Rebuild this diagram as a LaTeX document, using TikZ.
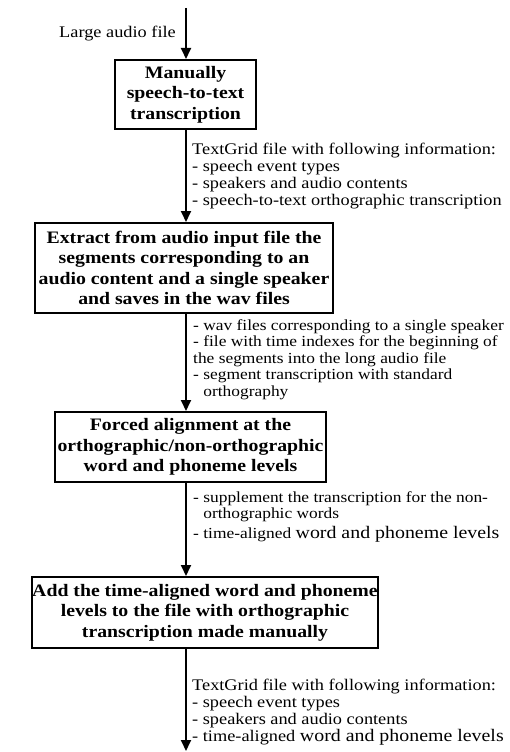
\documentclass[tikz,border=0pt]{standalone}
\usepackage{fontspec}
\setmainfont{Liberation Serif}[FakeStretch=1.13]
\usetikzlibrary{arrows.meta}

\newcommand\wordlevels{{\fontsize{17.6}{17}\selectfont word and phoneme levels}}

\begin{document}
\begin{tikzpicture}[x=1pt,y=-1pt,
  stage/.style={draw, line width=2pt, align=center, inner sep=0pt,
    font=\fontsize{17.5}{20.5}\selectfont\bfseries},
  note/.style={anchor=north west, align=left, inner sep=0pt,
    font=\fontsize{16.2}{17}\selectfont},
  smallnote/.style={note, font=\fontsize{15.4}{16.6}\selectfont},
  flow/.style={line width=1.8pt, -{Triangle[width=10pt,length=11pt]}}
]
\useasboundingbox (0,0) rectangle (510,752);

% processing stages
\node[stage, minimum width=141pt, minimum height=69pt] (s1) at (185.5,94.5)
  {Manually\\speech-to-text\\transcription};
\node[stage, minimum width=298pt, minimum height=90pt] (s2) at (184,268)
  {Extract from audio input file the\\segments corresponding to an\\audio content and a single speaker\\and saves in the wav files};
\node[stage, minimum width=271pt, minimum height=70pt] (s3) at (190.5,447)
  {Forced alignment at the\\orthographic/non-orthographic\\word and phoneme levels};
\node[stage, minimum width=316pt, minimum height=71pt] (s4) at (205,612.5)
  {Add the time-aligned word and phoneme\\levels to the file with orthographic\\transcription made manually};

% vertical spine of the flow and its free ends
\coordinate (spine) at (186,0);
\coordinate (in) at (186,8);
\coordinate (out) at (186,751);

\draw[flow] (in) -- (s1.north -| spine);
\draw[flow] (s1.south -| spine) -- (s2.north -| spine);
\draw[flow] (s2.south -| spine) -- (s3.north -| spine);
\draw[flow] (s3.south -| spine) -- (s4.north -| spine);
\draw[flow] (s4.south -| spine) -- (out);

% labels of the data passed between stages
\node[note, anchor=east] (lin) at (176,34) {Large audio file};
\node[note] (n1) at (192,142.5)
  {TextGrid file with following information:\\
   - speech event types\\
   - speakers and audio contents\\
   - speech-to-text orthographic transcription};
\node[smallnote] (n2) at (193,319)
  {- wav files corresponding to a single speaker\\
   - file with time indexes for the beginning of\\
   the segments into the long audio file\\
   - segment transcription with standard\\
   \phantom{- }orthography};
\node[smallnote] (n3) at (193,491)
  {- supplement the transcription for the non-\\
   \phantom{- }orthographic words\\[3.5pt]
   - time-aligned \wordlevels};
\node[note] (n4) at (192,678.5)
  {TextGrid file with following information:\\
   - speech event types\\
   - speakers and audio contents\\
   - time-aligned \wordlevels};
\end{tikzpicture}
\end{document}
